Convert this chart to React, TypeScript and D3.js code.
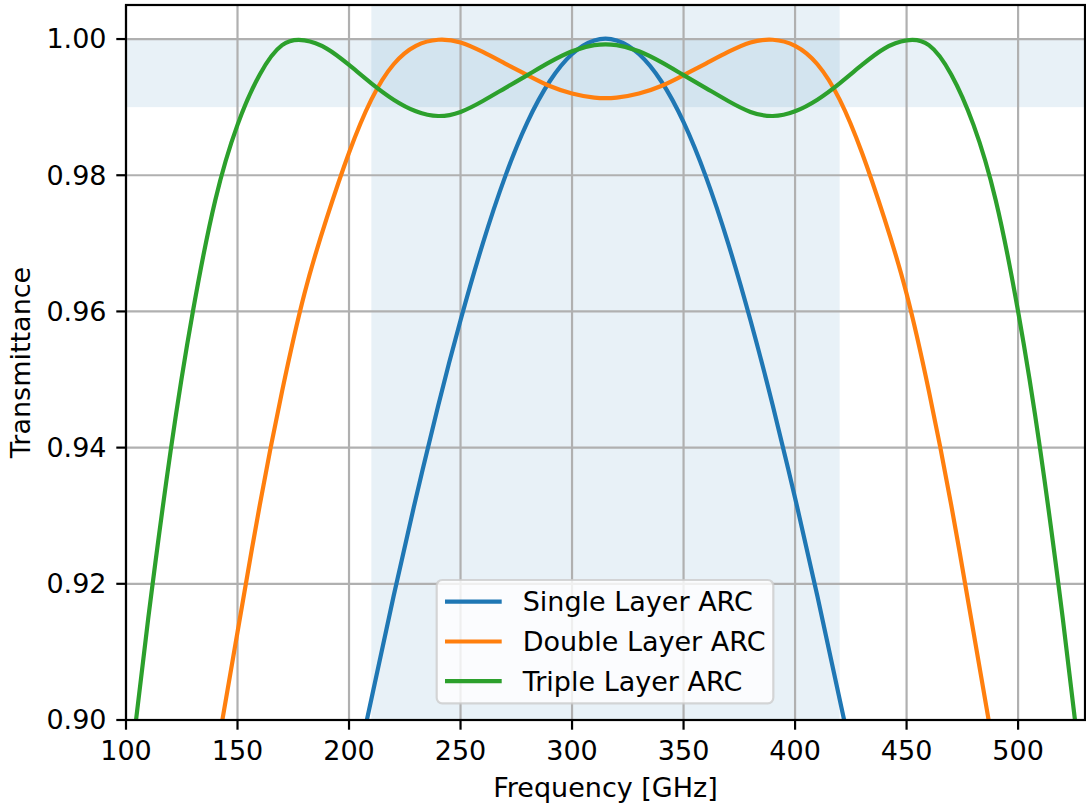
import React from 'react';
import * as d3 from 'd3';

const xTicks = [100, 150, 200, 250, 300, 350, 400, 450, 500];
const yTicks = [0.90, 0.92, 0.94, 0.96, 0.98, 1.00];
const seriesNames = ['Single Layer ARC', 'Double Layer ARC', 'Triple Layer ARC'];
const seriesColors = ['#1f77b4', '#ff7f0e', '#2ca02c'];

const singleFreq = [208, 220, 230, 240, 250, 260, 270, 280, 290, 300, 310, 320, 330, 340, 350, 360, 370, 380, 390, 400, 410, 422];
const singleT = [0.900, 0.9182, 0.9326, 0.9462, 0.9587, 0.9700, 0.9798, 0.9878, 0.9938, 0.9978, 0.9998, 0.9998, 0.9978, 0.9938, 0.9878, 0.9798, 0.9700, 0.9587, 0.9462, 0.9326, 0.9182, 0.900];

const doubleFreq = [143.2, 150, 160, 170, 180, 190, 200, 210, 220, 230, 240, 250, 260, 270, 280, 290, 300, 310,
  320, 330, 340, 350, 360, 370, 380, 390, 400, 410, 420, 430, 440, 450, 460, 470, 480, 486.8];
const doubleT = [0.900, 0.9129, 0.9316, 0.9483, 0.9626, 0.9737, 0.9833, 0.9911, 0.9963, 0.9990, 0.9999, 0.9995, 0.9981, 0.9964, 0.9947, 0.9931, 0.9920, 0.9914,
  0.9914, 0.9920, 0.9931, 0.9947, 0.9964, 0.9981, 0.9995, 0.9999, 0.9990, 0.9963, 0.9911, 0.9833, 0.9737, 0.9626, 0.9483, 0.9316, 0.9129, 0.900];

const tripleFreq = [104.5, 110, 120, 130, 140, 150, 160, 170, 180, 190, 200, 210, 220, 230, 240, 250, 260, 270, 280, 290, 300, 310,
  320, 330, 340, 350, 360, 370, 380, 390, 400, 410, 420, 430, 440, 450, 460, 470, 480, 490, 500, 510, 520, 525.5];
const tripleT = [0.900, 0.9150, 0.9395, 0.9600, 0.9763, 0.9874, 0.9948, 0.9991, 0.9998, 0.9986, 0.9962, 0.9935, 0.9911, 0.9894, 0.9887, 0.9893, 0.9909, 0.9928, 0.9947, 0.9966, 0.9982, 0.9991,
  0.9991, 0.9982, 0.9966, 0.9947, 0.9928, 0.9909, 0.9893, 0.9887, 0.9894, 0.9911, 0.9935, 0.9962, 0.9986, 0.9998, 0.9991, 0.9948, 0.9874, 0.9763, 0.9600, 0.9395, 0.9150, 0.900];

const bandX = [210, 420];
const bandY = [0.99, 1.0];
const xDomain = [100, 530];
const yDomain = [0.90, 1.005];

const W = 1086, H = 805;
const L = 126, R = 1085, T = 5, B = 720;
const FONT = '"DejaVu Sans", Verdana, sans-serif';
const FS = 27;

export default function App() {
  const x = d3.scaleLinear().domain(xDomain).range([L, R]);
  const y = d3.scaleLinear().domain(yDomain).range([B, T]);
  const line = d3.line<[number, number]>()
    .x(d => x(d[0]))
    .y(d => y(d[1]))
    .curve(d3.curveNatural);

  const series = [
    singleFreq.map((f, i) => [f, singleT[i]] as [number, number]),
    doubleFreq.map((f, i) => [f, doubleT[i]] as [number, number]),
    tripleFreq.map((f, i) => [f, tripleT[i]] as [number, number]),
  ];

  const legX = 436.7, legY = 580, legW = 336.6, legH = 123.3;
  const rowY = [601.7, 641.5, 681.2];

  return (
    <svg width={W} height={H} style={{ position: 'absolute', left: 0, top: 0, background: '#fff' }}
      fontFamily={FONT}>
      <defs>
        <clipPath id="plotclip">
          <rect x={L} y={T} width={R - L} height={B - T} />
        </clipPath>
      </defs>
      <rect x={0} y={0} width={W} height={H} fill="#fff" />
      {/* shaded bands */}
      <rect x={L} y={y(bandY[1])} width={R - L} height={y(bandY[0]) - y(bandY[1])}
        fill="#1f77b4" fillOpacity={0.1} />
      <rect x={x(bandX[0])} y={T} width={x(bandX[1]) - x(bandX[0])} height={B - T}
        fill="#1f77b4" fillOpacity={0.1} />
      {/* grid */}
      {xTicks.map(t => (
        <line key={'gx' + t} x1={x(t)} x2={x(t)} y1={T} y2={B} stroke="#b0b0b0" strokeWidth={2.2} />
      ))}
      {yTicks.map(t => (
        <line key={'gy' + t} x1={L} x2={R} y1={y(t)} y2={y(t)} stroke="#b0b0b0" strokeWidth={2.2} />
      ))}
      {/* series */}
      <g clipPath="url(#plotclip)">
        {series.map((s, i) => (
          <path key={'s' + i} d={line(s) || ''} fill="none" stroke={seriesColors[i]}
            strokeWidth={4.2} strokeLinejoin="round" strokeLinecap="butt" />
        ))}
      </g>
      {/* spines */}
      <rect x={L} y={T} width={R - L} height={B - T} fill="none" stroke="#000" strokeWidth={2.2} />
      {/* ticks */}
      {xTicks.map(t => (
        <g key={'tx' + t}>
          <line x1={x(t)} x2={x(t)} y1={B} y2={B + 9.7} stroke="#000" strokeWidth={2.2} />
          <text x={x(t)} y={760} textAnchor="middle" fontSize={FS} fill="#000">{t}</text>
        </g>
      ))}
      {yTicks.map(t => (
        <g key={'ty' + t}>
          <line x1={L - 9.7} x2={L} y1={y(t)} y2={y(t)} stroke="#000" strokeWidth={2.2} />
          <text x={106.5} y={y(t)} dy="0.35em" textAnchor="end" fontSize={FS} fill="#000">{t.toFixed(2)}</text>
        </g>
      ))}
      {/* axis labels */}
      <text x={(L + R) / 2} y={797} textAnchor="middle" fontSize={FS} fill="#000">Frequency [GHz]</text>
      <text transform={`translate(30,${(T + B) / 2}) rotate(-90)`} textAnchor="middle" fontSize={FS} fill="#000">Transmittance</text>
      {/* legend */}
      <rect x={legX} y={legY} width={legW} height={legH} rx={5.5} ry={5.5}
        fill="#fff" fillOpacity={0.8} stroke="#cccccc" strokeOpacity={0.8} strokeWidth={2.2} />
      {seriesNames.map((n, i) => (
        <g key={'lg' + i}>
          <line x1={445} x2={501.7} y1={rowY[i]} y2={rowY[i]} stroke={seriesColors[i]} strokeWidth={4.2} />
          <text x={522.7} y={rowY[i]} dy="0.36em" fontSize={FS} fill="#000">{n}</text>
        </g>
      ))}
    </svg>
  );
}
